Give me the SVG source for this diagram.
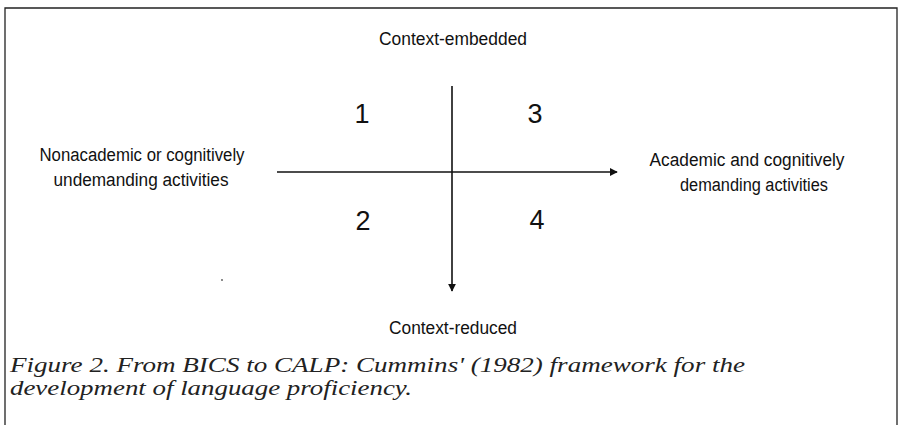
<svg xmlns="http://www.w3.org/2000/svg" width="900" height="425" viewBox="0 0 900 425">
<defs>
<style>
.lbl{font-family:"Liberation Sans",Arial,sans-serif;font-size:18px;fill:#111;text-anchor:middle}
.num{font-family:"Liberation Sans",Arial,sans-serif;font-size:27px;fill:#111;text-anchor:middle}
.cap{font-family:"Liberation Serif","Times New Roman",serif;font-style:italic;font-size:21px;fill:#222}
.ax{stroke:#111;stroke-width:1.6;fill:none}
</style>
<marker id="ah" viewBox="0 0 10 10" refX="9" refY="5" markerWidth="8" markerHeight="8" markerUnits="userSpaceOnUse" orient="auto">
<path d="M0,0 L10,5 L0,10 z" fill="#111"/>
</marker>
</defs>
<rect width="900" height="425" fill="#fff"/>
<path d="M5,426 V8 H897 V426" stroke="#222" stroke-width="1.3" fill="none"/>
<g id="connectors">
<line class="ax" x1="277" y1="172" x2="617" y2="172" marker-end="url(#ah)"/>
<line class="ax" x1="452" y1="86" x2="452" y2="291" marker-end="url(#ah)"/>
</g>
<g id="top"><text class="lbl" x="453" y="45" textLength="148" lengthAdjust="spacingAndGlyphs">Context-embedded</text></g>
<g id="bottom"><text class="lbl" x="453" y="334" textLength="128" lengthAdjust="spacingAndGlyphs">Context-reduced</text></g>
<g id="left">
<text class="lbl" x="142" y="161" textLength="205" lengthAdjust="spacingAndGlyphs">Nonacademic or cognitively</text>
<text class="lbl" x="141" y="186" textLength="175" lengthAdjust="spacingAndGlyphs">undemanding activities</text>
</g>
<g id="right">
<text class="lbl" x="747" y="166" textLength="195" lengthAdjust="spacingAndGlyphs">Academic and cognitively</text>
<text class="lbl" x="754" y="191" textLength="148" lengthAdjust="spacingAndGlyphs">demanding activities</text>
</g>
<g id="q1"><text class="num" x="362" y="123">1</text></g>
<g id="q3"><text class="num" x="535" y="123">3</text></g>
<g id="q2"><text class="num" x="363" y="230">2</text></g>
<g id="q4"><text class="num" x="537" y="229">4</text></g>
<circle cx="222" cy="280" r="0.9" fill="#555"/>
<text class="cap" x="10" y="372" textLength="735" lengthAdjust="spacingAndGlyphs">Figure 2. From BICS to CALP: Cummins' (1982) framework for the</text>
<text class="cap" x="10" y="395" textLength="402" lengthAdjust="spacingAndGlyphs">development of language proficiency.</text>
</svg>
